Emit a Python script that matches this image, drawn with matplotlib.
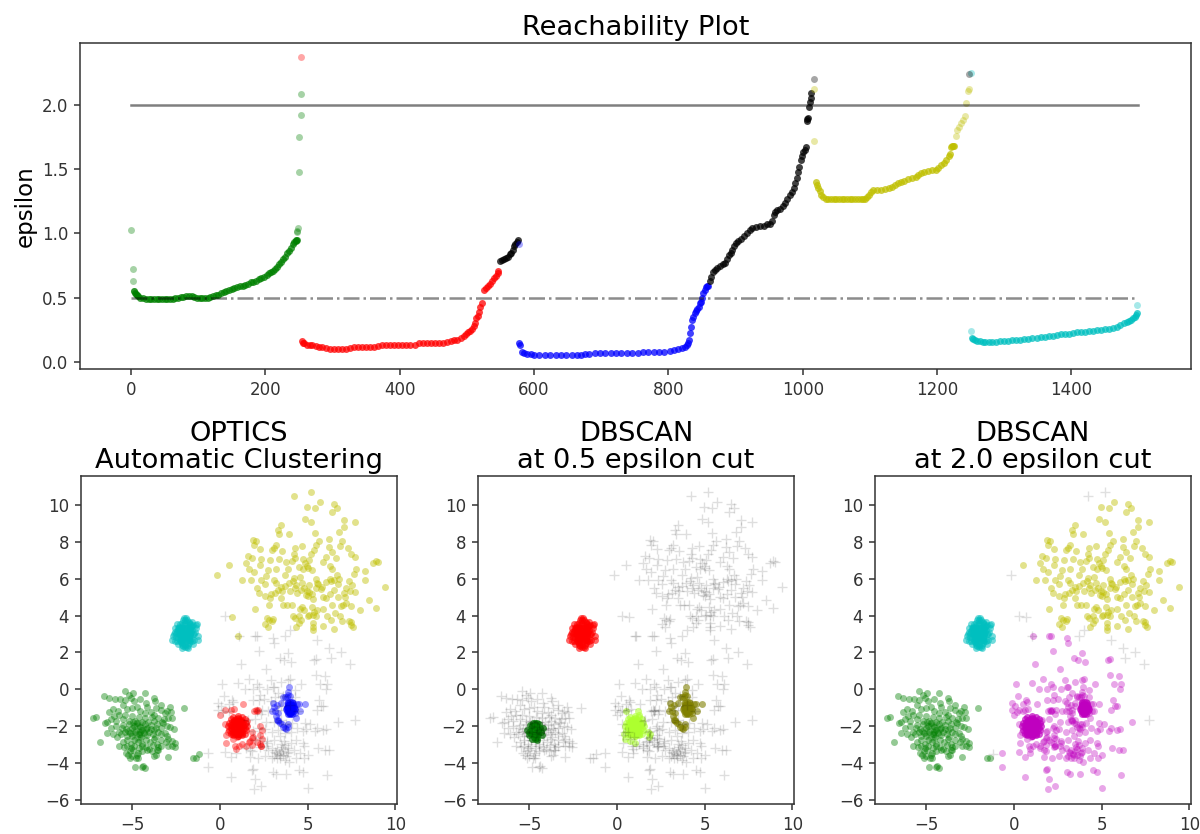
import matplotlib
matplotlib.use("Agg")
import matplotlib.pyplot as plt

# ---------- reachability plot (order index, reachability) ----------
g_x = [5,6,7,9,11,14,18,22,26,30,34,38,42,46,50,54,58,62,66,70,74,78,82,86,90,94,98,102,106,110,114,118,122,126,130,134,138,142,146,150,154,158,162,166,170,174,178,182,186,190,194,198,202,205,208,211,214,217,220,223,226,229,232,235,238,241,243,245,246,247]
g_y = [.55,.54,.53,.52,.51,.50,.495,.49,.49,.49,.49,.49,.49,.49,.49,.49,.49,.49,.495,.50,.505,.505,.51,.515,.51,.505,.50,.50,.50,.50,.50,.505,.51,.52,.525,.535,.545,.55,.56,.565,.575,.585,.59,.595,.60,.61,.62,.625,.63,.645,.655,.665,.675,.69,.70,.71,.72,.74,.76,.78,.80,.82,.845,.865,.885,.915,.93,.94,.945,.95]
g_iso_x = [0,3,3,4,247,247,248,250,250,253,253]
g_iso_y = [1.03,.72,.63,.55,1.01,1.02,1.04,1.48,1.75,1.92,2.08]
r_x = [255,256,258,262,266,270,275,280,285,290,296,302,308,314,320,326,332,338,344,350,356,362,368,374,380,386,392,398,404,410,416,422,428,434,440,446,452,458,464,470,476,481,486,491,495,499,502,505,508,510,512,514,516,518,520,522,525,528,531,534,537,540,543,546,547]
r_y = [.165,.15,.145,.135,.13,.13,.125,.12,.115,.11,.105,.105,.105,.105,.105,.11,.12,.12,.12,.12,.12,.12,.125,.13,.13,.13,.13,.13,.13,.13,.135,.135,.145,.145,.145,.145,.145,.145,.15,.155,.165,.17,.175,.19,.20,.215,.23,.245,.26,.28,.30,.345,.36,.39,.43,.46,.56,.575,.59,.61,.63,.65,.67,.69,.71]
r_iso_x = [253]
r_iso_y = [2.37]
k1_x = [549,552,555,558,561,564,566,568,570,572,574,576]
k1_y = [.785,.795,.80,.81,.82,.84,.85,.87,.90,.915,.93,.945]
b_x = [578,579,582,585,590,595,600,608,616,624,632,640,648,656,664,670,676,682,690,698,706,714,722,730,738,746,754,762,770,778,786,794,802,808,814,820,824,827,829,831,832,833,835,837,839,841,843,845,847,849,850,852,854,856,858,859]
b_y = [.145,.13,.075,.07,.065,.06,.055,.055,.055,.055,.055,.055,.055,.055,.055,.055,.06,.065,.07,.07,.07,.07,.07,.07,.07,.07,.07,.075,.08,.08,.08,.08,.085,.095,.10,.11,.12,.135,.15,.175,.225,.27,.33,.35,.38,.395,.41,.43,.46,.47,.50,.535,.56,.58,.59,.595]
b_iso_x = [577]
b_iso_y = [.915]
k2_x = [862,864,866,869,873,877,881,884,887,890,893,895,898,900,904,908,913,917,921,925,930,936,942,947,951,954,957,959,962,966,970,973,977,981,984,987,989,991,993,995,997,999,1001,1003,1005,1006,1007,1008,1010,1011,1012,1013]
k2_y = [.63,.66,.70,.715,.73,.745,.76,.77,.80,.83,.85,.87,.90,.925,.94,.955,.98,1.00,1.03,1.04,1.05,1.06,1.06,1.07,1.07,1.10,1.14,1.17,1.18,1.19,1.21,1.24,1.27,1.30,1.32,1.35,1.39,1.43,1.48,1.52,1.57,1.60,1.63,1.65,1.67,1.87,1.89,1.90,1.98,2.02,2.05,2.09]
k_iso_x = [1017,1248]
k_iso_y = [2.20,2.24]
y_x = [1020,1021,1023,1025,1027,1030,1034,1038,1042,1046,1050,1054,1058,1062,1066,1070,1074,1078,1082,1086,1090,1093,1096,1099,1102,1105,1110,1116,1122,1128,1133,1138,1142,1146,1150,1156,1162,1168,1172,1176,1180,1186,1192,1198,1202,1206,1210,1214,1217,1219,1220,1222,1224,1225]
y_y = [1.40,1.38,1.35,1.33,1.30,1.28,1.27,1.27,1.27,1.27,1.27,1.27,1.27,1.27,1.27,1.27,1.27,1.27,1.27,1.27,1.27,1.27,1.28,1.30,1.32,1.335,1.34,1.34,1.345,1.35,1.36,1.375,1.39,1.40,1.41,1.42,1.43,1.44,1.455,1.47,1.48,1.485,1.49,1.49,1.51,1.53,1.55,1.57,1.60,1.62,1.67,1.68,1.68,1.68]
y_iso_x = [1017,1017,1228,1230,1233,1235,1238,1242,1243,1246,1247]
y_iso_y = [1.72,2.12,1.76,1.80,1.83,1.86,1.88,1.91,2.01,2.11,2.12]
c_x = [1252,1254,1257,1260,1264,1268,1272,1277,1282,1288,1294,1300,1306,1312,1318,1324,1330,1336,1342,1348,1354,1360,1366,1372,1378,1384,1390,1396,1402,1408,1414,1420,1426,1432,1438,1444,1450,1456,1462,1468,1473,1478,1482,1486,1489,1492,1494,1496,1498]
c_y = [.19,.18,.17,.165,.16,.155,.155,.155,.155,.155,.16,.16,.165,.17,.175,.175,.18,.18,.185,.19,.195,.195,.20,.205,.21,.215,.215,.22,.225,.23,.23,.235,.24,.245,.25,.25,.255,.26,.265,.27,.285,.30,.31,.32,.33,.34,.35,.365,.38]
c_iso_x = [1250,1250,1498]
c_iso_y = [2.25,.24,.445]

# ---------- point cloud, grouped by how each panel labels it ----------
yellow_pts = [(4.95,9.9),(5.4,9.85),(5.7,10.15),(6.5,10.05),(6.65,9.85),(6.4,9.6),(4.85,9.25),(5.2,9.05),(7.1,9.2),(7.7,9.05),(7.05,8.8),(6.8,8.55),
(3.45,8.9),(3.3,8.65),(3.35,8.45),(3.95,8.45),(5.4,8.5),(1.9,8.1),(2.05,8.05),(1.95,7.85),(3.2,7.85),(3.05,7.65),(3.55,7.5),(2.3,7.6),(2.95,7.55),
(4.25,7.65),(4.7,7.75),(4.2,7.35),(5.65,8.05),(5.5,7.85),(5.35,7.55),(5.2,7.35),(6.2,8.15),(6.95,8.05),(6.85,7.8),(6.2,7.7),(6.4,7.45),(7.3,7.65),(7.45,7.35),(7.7,7.2),
(1.6,7.25),(1.85,7.1),(2.35,7.05),(2.85,7.0),(3.35,7.05),(3.75,6.9),(4.1,6.95),(4.3,7.1),(4.75,7.05),(4.85,6.85),(4.95,6.7),(5.1,7.0),(6.05,7.15),(6.6,7.1),(5.9,6.9),(6.3,6.7),(6.4,6.55),
(1.5,6.85),(0.5,6.75),(1.65,6.5),(2.3,6.75),(2.75,6.45),(3.2,6.5),(3.9,6.55),(4.5,6.65),(4.72,6.5),(5.0,6.6),(5.25,6.45),(7.75,6.5),(7.65,6.25),(8.25,6.4),(8.75,6.85),(9.0,6.9),(8.9,6.95),
(1.25,5.95),(1.75,5.95),(1.95,6.35),(2.35,5.95),(2.6,6.15),(2.55,5.7),(3.2,5.75),(3.05,5.95),(3.45,5.55),(3.7,6.2),(4.2,6.05),(4.35,5.65),(4.55,6.1),(4.7,5.75),(5.1,5.65),(5.45,6.0),(5.6,5.7),(5.8,5.55),(6.05,5.8),(6.25,6.0),(6.5,5.95),(6.65,6.2),(6.8,6.0),(7.35,5.85),(7.55,5.65),(8.25,5.95),(6.35,5.9),
(2.1,5.5),(2.2,5.2),(2.55,5.05),(2.9,5.15),(3.15,5.2),(3.45,4.95),(3.6,4.6),(3.8,4.55),(4.0,5.35),(4.25,5.5),(4.4,5.25),(4.8,5.5),(4.9,5.1),(5.05,5.3),(5.25,5.15),(5.5,5.5),(5.75,5.45),(6.05,4.95),(6.3,5.15),(6.5,5.4),(6.75,5.0),(7.05,5.2),(7.2,5.5),(7.4,5.35),(7.2,4.7),(7.5,4.5),(7.7,5.3),(8.5,4.85),(8.9,4.4),(9.4,5.55),
(3.7,5.6),(3.95,5.75),(4.6,5.4),(5.0,5.05),(5.3,4.9),(5.55,5.75),(3.55,5.35),(4.15,5.85),(2.85,4.95),(3.3,5.4),(4.95,5.35),(6.75,5.7),(5.9,5.0),(7.0,4.55),(7.15,5.0),
(2.0,4.35),(2.8,4.55),(4.1,4.55),(4.55,4.35),(4.8,4.3),(5.1,4.05),(5.35,4.2),(5.55,4.3),(5.85,4.35),(6.1,4.0),(6.55,4.15),(6.9,4.5),(8.0,4.3),(4.7,4.45),(5.25,4.45),(5.5,3.95),(6.4,4.55),
(4.15,3.95),(4.3,3.85),(4.5,4.0),(4.6,3.75),(5.0,3.95),(5.3,4.05),(6.35,3.75),(6.85,3.95),(7.35,3.7),(7.5,3.65),(7.5,3.5),(6.95,3.7),
(2.8,3.75),(2.95,3.7),(3.0,3.8),(2.55,3.55),(2.75,3.4),(2.65,3.85),(4.35,3.4),(4.5,3.6),(5.3,3.4),(5.3,3.2),(5.3,3.6),(5.85,3.45),(6.5,3.25),(7.6,3.4)]
edge_x = [-0.2,0.7,1.0,4.2,5.2]
edge_y = [6.2,3.9,2.9,10.5,10.7]
always_noise_x = [0.3,3.7,4.0,5.55,6.2,6.35,6.9,7.4,7.7]
always_noise_y = [4.0,2.9,3.2,2.7,2.25,1.7,2.0,1.4,-1.65]

cyan_x = [-2.1,-1.9,-2.0,-2.2,-1.8,-2.3,-1.7,-2.4,-1.6,-2.05,-1.95,-2.15,-1.85,-2.25,-1.75,-2.35,-1.65,-2.5,-1.5,-2.0,-2.1,-1.9,-2.2,-1.8,-2.3,-1.7,-2.4,-1.6,-2.0,-2.1,-1.9,-2.2,-1.8,-2.3,-1.7,-2.45,-1.55,-2.0,-2.15,-1.85,-2.25,-1.75,-2.35,-1.65,-2.55,-1.45,-2.05,-1.95,-2.15,-1.85,-2.3,-1.7,-2.45,-1.6,-2.65,-1.4,-2.1,-1.9,-2.2,-1.8,-2.4,-1.6,-2.7,-1.3,-2.0,-2.15,-1.85,-2.3,-1.7,-2.5,-1.5,-2.6,-1.35,-2.05,-1.95,-2.25,-1.75,-2.45,-1.55,-2.6,-1.25,-2.1,-1.9,-2.2,-1.75,-2.4,-1.55,-2.75,-1.25,-2.0,-2.1,-1.85,-2.2,-1.7,-2.35,-1.6,-2.0,-1.9,-2.3,-2.05,-1.95,-1.8]
cyan_y = [3.0,3.0,3.2,3.2,3.2,3.0,3.0,3.2,3.2,2.8,2.8,3.4,3.4,2.8,2.8,3.4,3.4,3.0,3.0,3.6,2.6,2.6,3.6,3.6,2.6,2.6,2.8,2.8,3.75,3.75,3.75,2.5,2.5,3.55,3.55,3.55,3.5,2.4,2.4,2.4,3.3,3.3,3.0,3.1,3.3,3.1,3.1,2.9,2.9,3.1,2.85,3.25,2.6,2.6,3.0,3.5,3.5,3.5,2.7,2.7,3.35,3.45,2.9,3.55,2.3,2.25,2.25,3.15,2.95,2.85,2.7,2.6,3.35,3.85,3.85,2.55,3.65,3.15,3.0,3.1,2.9,2.35,2.3,3.05,3.05,2.45,2.45,2.7,2.7,3.3,2.7,2.7,3.3,3.3,3.35,3.65,2.9,3.3,2.95,3.05,2.95,2.85]

red_core_x = [1.0,0.9,1.1,0.8,1.2,0.7,1.3,0.95,1.05,0.85,1.15,0.75,1.25,0.65,1.35,1.0,0.9,1.1,0.8,1.2,0.7,1.3,1.0,0.9,1.1,0.8,1.2,0.95,1.05,0.85,1.15,0.75,1.25,0.6,1.4,1.0,0.9,1.1,0.8,1.2,0.7,1.3,1.0,0.95,1.05,0.85,1.15,0.75,1.25,1.0,0.45,1.55,0.6,1.4,0.6,1.4,1.0,1.0,0.75,1.25,0.75,1.25,0.5,1.5,0.5,1.5]
red_core_y = [-2.0,-2.0,-2.0,-2.0,-2.0,-2.0,-2.0,-1.85,-1.85,-1.85,-1.85,-1.85,-1.85,-1.95,-1.95,-2.15,-2.15,-2.15,-2.15,-2.15,-2.15,-2.15,-1.7,-1.7,-1.7,-1.7,-1.7,-2.3,-2.3,-2.3,-2.3,-2.3,-2.3,-2.1,-2.1,-1.55,-1.6,-1.6,-1.65,-1.65,-1.75,-1.75,-2.45,-2.4,-2.4,-2.4,-2.4,-2.4,-2.4,-2.55,-2.0,-2.0,-1.6,-1.6,-2.4,-2.4,-1.45,-2.55,-1.5,-1.5,-2.5,-2.5,-1.8,-1.8,-2.2,-2.2]
red_sparse_x = [0.0,0.3,0.6,0.8,1.3,2.05,2.1,1.95,2.15,0.3,0.45,0.6,0.35,0.75,1.55,1.8,1.9,2.3,2.4,1.85,2.3,2.4,1.7,2.1,2.35,0.35,0.95,1.25,1.5,1.65,1.85,2.35,0.85,0.9,1.1,2.3]
red_sparse_y = [-1.4,-1.1,-1.1,-1.05,-0.8,-1.1,-1.15,-1.15,-1.1,-1.9,-2.3,-2.3,-2.5,-2.7,-1.7,-2.3,-2.6,-2.0,-2.2,-2.65,-2.5,-2.7,-2.8,-2.85,-3.05,-2.9,-2.6,-2.95,-3.05,-2.85,-3.0,-3.05,-3.1,-3.25,-3.1,-2.95]
lime_extra_x = [0.5,1.2,1.25,1.75,1.9,1.85,0.4,0.45,0.75,1.05]
lime_extra_y = [-1.2,-1.2,-1.4,-2.3,-2.4,-2.6,-2.4,-2.7,-2.8,-2.9]
blue_core_x = [4.0,3.9,4.1,3.8,4.2,4.0,3.9,4.1,3.85,4.15,4.0,3.9,4.1,3.8,4.2,4.0,3.9,4.1,3.85,4.15,4.0,3.75,4.25,3.95,4.05,4.0,3.9,4.1,3.8,4.2]
blue_core_y = [-1.0,-1.0,-1.0,-1.0,-1.0,-0.85,-0.85,-0.85,-0.85,-0.85,-1.15,-1.15,-1.15,-1.15,-1.15,-0.7,-0.7,-0.7,-0.75,-0.75,-1.3,-1.05,-1.05,-1.3,-1.3,-1.35,-1.35,-1.35,-0.95,-0.95]
blue_sparse_x = [3.0,3.05,2.95,3.15,3.2,3.25,3.3,3.3,3.4,3.55,3.6,3.7,3.75,3.85,3.9,4.0,4.4,4.5,4.85,4.55,4.3,4.35,3.6,3.7,3.8,3.9,3.85,3.95,3.45,3.3,3.25]
blue_sparse_y = [-0.75,-0.95,-1.2,-1.2,-1.45,-1.65,-1.65,-1.7,-1.85,-1.9,-2.05,-2.1,-2.15,-2.05,-1.9,-0.35,-0.8,-0.8,-0.8,-1.2,-1.3,-1.55,-0.4,-0.4,-0.4,-0.3,-0.15,0.1,-0.75,-1.3,-0.85]
magenta_x = [1.1,2.0,2.1,3.0,3.1,2.25,3.4,3.9,3.65,4.05,1.2,5.35,5.45,2.6,0.1,1.05,1.65,2.1,2.25,2.9,3.05,3.5,3.9,4.0,4.6,5.5,6.0,6.1,5.7,6.05,-0.1,0.2,0.7,1.4,1.9,2.3,2.7,3.0,3.3,3.6,4.3,0.05,0.5,0.75,1.9,2.2,2.5,2.9,3.15,3.5,4.3,5.65,5.85,5.55,-0.1,0.15,0.5,2.1,2.4,2.75,3.3,4.0,4.45,5.75,1.6,2.0,2.35,2.6,3.1,3.45,3.75,4.1,4.85,5.15,5.55,5.9,6.05,1.9,2.2,2.55,2.95,3.3,3.7,4.05,4.4,4.75,4.9,5.4,2.0,2.3,2.65,3.1,3.4,3.65,4.05,4.35,4.75,1.7,1.85,2.3,2.6,2.95,3.25,3.55,3.85,4.2,4.55,4.8,5.6,6.0,6.2,-0.7,0.65,0.3,0.9,1.7,2.15,2.55,2.95,3.4,3.7,3.95,4.35,4.8,5.0,-0.7,1.8,1.9,3.0,3.2,3.75,4.5,4.75,6.1,0.6,2.0,2.35,1.95,5.0,1.5,6.75,3.2,3.35,3.5,3.6,3.75,3.4,3.6,3.05,3.25,3.8,2.7,3.9,3.5,3.7,2.75,3.15]
magenta_y = [2.9,2.9,2.9,2.8,2.5,2.1,1.7,1.95,1.6,1.5,1.4,1.6,1.65,1.1,0.3,0.35,0.55,0.3,0.15,0.5,0.15,0.4,0.5,0.55,0.3,0.8,0.7,0.3,0.3,0.0,-0.75,-0.35,-0.6,0.0,0.0,-0.3,0.0,0.1,-0.2,-0.35,-0.05,-0.9,-0.8,-0.7,-0.6,-0.6,-0.55,-0.65,-0.4,-0.9,-0.4,-0.6,-0.9,-1.1,-1.1,-1.25,-1.15,-1.2,-1.1,-1.15,-1.1,-0.85,-1.15,-0.9,-1.65,-1.6,-1.35,-1.75,-1.75,-1.65,-1.9,-1.8,-1.85,-1.9,-2.1,-2.2,-2.15,-2.25,-2.1,-2.15,-2.3,-2.2,-2.35,-2.3,-2.1,-2.25,-2.15,-2.25,-2.75,-2.65,-2.8,-2.75,-2.55,-2.8,-2.9,-2.75,-2.9,-3.3,-3.35,-3.15,-3.1,-3.2,-3.3,-3.15,-3.4,-3.3,-3.45,-3.05,-3.2,-3.3,-3.3,-3.45,-3.65,-3.4,-3.45,-3.65,-3.75,-3.6,-3.75,-3.55,-3.85,-3.95,-3.75,-3.75,-3.55,-4.2,-4.4,-4.3,-4.5,-4.6,-4.6,-4.4,-4.5,-4.65,-4.75,-4.85,-5.25,-5.4,-5.35,-3.2,-1.75,-3.45,-3.5,-3.35,-3.55,-3.6,-3.7,-3.25,-3.6,-3.75,-3.45,-2.9,-3.2,-2.95,-3.0,-3.3,-3.4]

green_core_x = [-4.7,-4.6,-4.8,-4.5,-4.9,-4.65,-4.75,-4.55,-4.85,-4.4,-5.0,-4.7,-4.6,-4.8,-4.5,-4.9,-4.35,-4.7,-4.6,-4.8,-4.45,-4.95,-4.25,-4.65,-4.75,-5.05,-4.7,-4.55,-4.85,-4.6,-5.15,-4.3]
green_core_y = [-2.2,-2.2,-2.2,-2.2,-2.2,-2.0,-2.0,-2.0,-2.0,-2.1,-2.3,-2.4,-2.4,-2.4,-2.4,-2.4,-2.3,-1.85,-1.8,-1.85,-1.9,-1.95,-2.1,-2.6,-2.6,-2.5,-2.7,-2.65,-2.7,-2.75,-2.2,-2.5]
green_pts = [(-5.45,-0.1),(-5.2,-0.3),(-4.95,-0.2),(-4.3,-0.2),(-6.65,-0.35),(-6.35,-0.45),(-6.0,-0.55),(-5.7,-0.5),(-5.45,-0.6),(-5.1,-0.45),(-4.9,-0.65),(-4.6,-0.55),(-3.8,-0.45),(-3.7,-0.65),(-4.25,-0.75),
(-6.1,-1.05),(-5.85,-1.2),(-5.55,-0.85),(-5.3,-1.05),(-5.0,-1.0),(-4.75,-0.95),(-4.55,-1.15),(-4.3,-1.3),(-4.15,-0.95),(-3.95,-1.25),(-3.65,-1.0),(-3.4,-0.85),(-3.15,-1.3),(-3.35,-1.1),(-3.75,-1.4),
(-7.25,-1.55),(-7.1,-1.5),(-6.55,-1.85),(-6.25,-1.6),(-6.45,-1.75),(-5.95,-1.7),(-5.75,-1.4),(-5.55,-1.6),(-5.4,-1.4),(-5.2,-1.7),(-5.0,-1.45),(-4.85,-1.7),(-4.65,-1.5),(-4.45,-1.75),(-4.3,-1.55),(-4.1,-1.75),(-3.9,-1.5),(-3.75,-1.7),(-3.55,-1.55),(-3.3,-1.75),(-3.2,-1.6),(-2.95,-1.55),
(-6.45,-2.35),(-6.2,-2.1),(-5.95,-2.0),(-5.75,-2.3),(-5.55,-1.95),(-5.35,-2.15),(-5.2,-1.9),(-5.05,-2.1),(-4.9,-2.0),(-4.75,-1.85),(-4.6,-2.05),(-4.45,-2.2),(-4.3,-1.9),(-4.15,-2.1),(-3.95,-1.95),(-3.8,-2.2),(-3.6,-1.9),(-3.4,-2.1),(-3.25,-1.85),(-3.05,-2.0),(-2.85,-2.05),(-2.65,-2.15),
(-6.1,-2.4),(-5.9,-2.6),(-5.65,-2.45),(-5.45,-2.3),(-5.3,-2.55),(-5.15,-2.35),(-5.0,-2.55),(-4.85,-2.3),(-4.65,-2.45),(-4.5,-2.6),(-4.35,-2.35),(-4.2,-2.5),(-4.05,-2.3),(-3.85,-2.45),(-3.7,-2.6),(-3.55,-2.3),(-3.35,-2.45),(-3.15,-2.35),(-3.05,-2.55),(-5.6,-2.1),(-5.25,-2.25),(-4.95,-1.75),(-4.55,-2.3),(-4.25,-2.15),(-3.95,-2.15),(-3.65,-2.1),
(-6.85,-2.85),(-5.55,-2.85),(-5.3,-2.75),(-5.1,-2.95),(-4.9,-2.75),(-4.7,-2.85),(-4.45,-2.95),(-4.25,-2.75),(-4.0,-2.85),(-3.8,-2.7),(-3.6,-2.95),(-3.35,-2.75),(-3.1,-2.85),(-3.0,-2.7),(-2.75,-2.8),(-2.6,-2.9),(-5.75,-3.1),(-5.5,-3.15),(-5.3,-3.1),(-5.1,-3.2),(-4.9,-3.05),(-4.65,-3.2),(-4.45,-3.05),(-4.25,-3.15),(-4.05,-3.25),(-3.85,-3.0),(-3.55,-3.15),(-3.35,-3.1),(-2.95,-3.1),(-2.75,-3.05),(-2.6,-3.15),
(-5.35,-3.45),(-5.15,-3.35),(-4.95,-3.3),(-4.7,-3.45),(-4.45,-3.35),(-4.15,-3.3),(-3.9,-3.35),(-3.6,-3.3),(-3.55,-3.3),(-5.15,-3.7),(-5.0,-3.6),(-4.8,-3.7),(-4.7,-3.75),(-3.8,-3.6),(-3.65,-3.55),(-3.0,-3.65),(-4.75,-3.55),(-5.25,-3.55),(-4.85,-4.2),(-4.45,-4.2),(-4.4,-4.15),(-4.3,-4.25),(-6.35,-1.25),(-6.05,-1.45),(-2.8,-1.25),(-3.05,-1.15),(-2.75,-1.55),(-2.85,-0.95)]
green_extra_x = [-2.05,-1.55,-1.4,-1.2]
green_extra_y = [-1.0,-3.75,-3.75,-3.5]

# colours the middle panel gives its clusters
ax3_core_colors = ["g", "greenyellow", "olive", "r"]

titles = ["OPTICS\nAutomatic Clustering", "DBSCAN\nat 0.5 epsilon cut", "DBSCAN\nat 2.0 epsilon cut"]

yellow_x = [p[0] for p in yellow_pts]
yellow_y = [p[1] for p in yellow_pts]
green_x = [p[0] for p in green_pts]
green_y = [p[1] for p in green_pts]

W, H = 1200, 834
fig = plt.figure(figsize=(W / 100, H / 100), dpi=100)


def box(l, t, r, b):
    return [l / W, 1 - b / H, (r - l) / W, (b - t) / H]


MS = 10
ax1 = fig.add_axes(box(80, 43, 1191, 369))
for c, xs, ys in [("g", g_x, g_y), ("r", r_x, r_y), ("k", k1_x, k1_y), ("b", b_x, b_y),
                  ("k", k2_x, k2_y), ("y", y_x, y_y), ("c", c_x, c_y)]:
    ax1.plot(xs, ys, c + ".", alpha=0.75, ms=MS, mew=0)
for c, xs, ys in [("g", g_iso_x, g_iso_y), ("r", r_iso_x, r_iso_y), ("b", b_iso_x, b_iso_y),
                  ("y", y_iso_x, y_iso_y), ("c", c_iso_x, c_iso_y), ("k", k_iso_x, k_iso_y)]:
    ax1.plot(xs, ys, c + ".", alpha=0.35, ms=MS, mew=0)
ax1.plot([0, 1499], [2.0, 2.0], "k-", alpha=0.5, lw=1.8)
ax1.plot([0, 1499], [0.5, 0.5], "k-.", alpha=0.45, lw=1.8)
ax1.set_xlim(-76, 1578)
ax1.set_ylim(-0.054, 2.48)
ax1.set_ylabel("epsilon", fontsize=16.5, labelpad=4)
ax1.set_title("Reachability Plot", fontsize=19.6, pad=6)
ax1.set_yticks([0, 0.5, 1, 1.5, 2])
ax1.set_xticks(range(0, 1401, 200))

lefts = [81, 478, 875]
axes = [fig.add_axes(box(l, 476, l + 316, 804)) for l in lefts]


def dots(ax, c, xs, ys, alpha=0.3):
    ax.plot(xs, ys, ".", color=c, alpha=alpha, ms=MS, mew=0)


def noise(ax, xs, ys, alpha=0.1):
    ax.plot(xs, ys, "k+", alpha=alpha, ms=7.5, mew=1.0)


# OPTICS
ax = axes[0]
dots(ax, "g", green_x + green_extra_x, green_y + green_extra_y, 0.42)
dots(ax, "g", green_core_x, green_core_y, 0.15)
dots(ax, "r", red_sparse_x, red_sparse_y, 0.4)
dots(ax, "r", red_core_x, red_core_y, 0.6)
dots(ax, "b", blue_sparse_x, blue_sparse_y, 0.4)
dots(ax, "b", blue_core_x, blue_core_y, 0.6)
dots(ax, "y", yellow_x + edge_x, yellow_y + edge_y, 0.45)
dots(ax, "c", cyan_x, cyan_y, 0.55)
noise(ax, magenta_x + always_noise_x, magenta_y + always_noise_y, 0.12)

# DBSCAN 0.5
ax = axes[1]
dots(ax, ax3_core_colors[0], green_core_x, green_core_y, 0.7)
dots(ax, ax3_core_colors[1], red_core_x + lime_extra_x, red_core_y + lime_extra_y, 0.6)
dots(ax, ax3_core_colors[2], blue_core_x + blue_sparse_x, blue_core_y + blue_sparse_y, 0.6)
dots(ax, ax3_core_colors[3], cyan_x, cyan_y, 0.6)
noise(ax, yellow_x + edge_x + always_noise_x + magenta_x + green_x + green_extra_x + red_sparse_x,
      yellow_y + edge_y + always_noise_y + magenta_y + green_y + green_extra_y + red_sparse_y, 0.13)

# DBSCAN 2.0
ax = axes[2]
dots(ax, "g", green_x + green_extra_x[:3], green_y + green_extra_y[:3], 0.42)
dots(ax, "g", green_core_x, green_core_y, 0.15)
dots(ax, "m", magenta_x + red_sparse_x + blue_sparse_x, magenta_y + red_sparse_y + blue_sparse_y, 0.35)
dots(ax, "m", red_core_x + blue_core_x, red_core_y + blue_core_y, 0.7)
dots(ax, "y", yellow_x, yellow_y, 0.45)
dots(ax, "c", cyan_x, cyan_y, 0.55)
noise(ax, always_noise_x + edge_x + green_extra_x[3:],
      always_noise_y + edge_y + green_extra_y[3:], 0.12)

for ax, t in zip(axes, titles):
    ax.set_xlim(-7.94, 10.1)
    ax.set_ylim(-6.22, 11.57)
    ax.set_xticks([-5, 0, 5, 10])
    ax.set_yticks([-6, -4, -2, 0, 2, 4, 6, 8, 10])
    ax.set_title(t, fontsize=19.6, pad=6, linespacing=1.05)

for ax in [ax1] + axes:
    ax.tick_params(labelsize=12, length=4.5, width=1.1, pad=4, colors="#333333")
    for s in ax.spines.values():
        s.set_linewidth(1.1)
        s.set_color("#333333")

fig.savefig("out.png", dpi=100)
